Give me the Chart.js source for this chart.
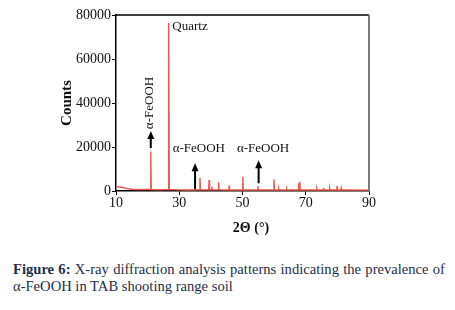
<!DOCTYPE html>
<html>
<head>
<meta charset="utf-8">
<script src="https://cdn.jsdelivr.net/npm/chart.js@4"></script>
<style>
  body { margin: 0; background: #fff; }
  #wrap { position: relative; width: 455px; height: 310px; }
  .cap { position: absolute; left: 13px; width: 432px; font-family: "Liberation Serif", serif; font-size: 14.6px; color: #232f4b; }
  #cap1 { top: 261px; text-align: justify; text-align-last: justify; }
  #cap2 { top: 278px; }
</style>
</head>
<body>
<div id="wrap">
  <canvas id="xrd" width="455" height="240"></canvas>
  <div class="cap" id="cap1"><b>Figure 6:</b> X-ray diffraction analysis patterns indicating the prevalence of</div>
  <div class="cap" id="cap2">α-FeOOH in TAB shooting range soil</div>
</div>
<script>
// 2-theta positions (degrees) and counts
var twoTheta = [10, 11, 12, 13, 14, 15, 17, 19, 20.85, 21.0, 21.15, 24, 26.45, 26.65, 26.85,
  30, 33, 36.4, 36.55, 36.7, 39.3, 39.45, 39.6, 40.2, 40.3, 40.4, 42.3, 42.45, 42.6,
  45.7, 45.8, 45.9, 49.95, 50.1, 50.25, 54.7, 54.85, 55.0, 59.8, 59.95, 60.1,
  61.4, 61.5, 61.6, 63.9, 64.0, 64.1, 65.4, 65.5, 65.6, 67.6, 67.75, 67.9, 68.1, 68.25,
  73.4, 73.5, 73.6, 75.5, 75.6, 75.7, 77.5, 77.6, 77.7, 79.8, 79.9, 80.0, 81.1, 81.2, 81.3,
  83.7, 83.8, 83.9, 90];
var counts = [1900, 1800, 1600, 1300, 1000, 800, 700, 650, 650, 18000, 650, 600, 700, 76500, 700,
  500, 450, 500, 6000, 500, 500, 5000, 500, 500, 2000, 500, 500, 4000, 500,
  450, 2500, 450, 450, 6500, 450, 450, 2200, 450, 450, 5200, 450,
  450, 1000, 450, 450, 900, 450, 450, 900, 450, 450, 3500, 800, 4200, 450,
  450, 1000, 450, 450, 1400, 450, 450, 1100, 450, 450, 2200, 450, 450, 1300, 450,
  450, 700, 450, 400];

var xTicks = [10, 30, 50, 70, 90];
var yTicks = [0, 20000, 40000, 60000, 80000];

// peak annotations: [2theta, arrow base counts, arrow tip counts]
var arrows = [[21.0, 19500, 27300], [35.0, 800, 12600], [55.1, 3500, 14000]];
var labels = [
  { text: "α-FeOOH", x: 20.75, y: 40000, rotate: true },
  { text: "α-FeOOH", x: 36.2, y: 19400, rotate: false },
  { text: "α-FeOOH", x: 56.5, y: 19400, rotate: false },
  { text: "Quartz", x: 27.8, y: 74700, rotate: false, left: true }
];

var serif = '"Liberation Serif", "Times New Roman", serif';

var points = twoTheta.map(function (t, i) { return { x: t, y: counts[i] }; });

var annotate = {
  id: "annotate",
  afterDraw: function (chart) {
    var c = chart.ctx, xs = chart.scales.x, ys = chart.scales.y, a = chart.chartArea;
    c.save();
    // top and right frame
    c.strokeStyle = "#000";
    c.lineWidth = 1.5;
    c.beginPath();
    c.moveTo(a.left, a.top);
    c.lineTo(a.right, a.top);
    c.stroke();
    c.strokeStyle = "#7a7a7a";
    c.lineWidth = 2;
    c.beginPath();
    c.moveTo(a.right, a.top);
    c.lineTo(a.right, a.bottom);
    c.stroke();

    // arrows
    c.fillStyle = "#000";
    c.strokeStyle = "#000";
    arrows.forEach(function (ar) {
      var px = xs.getPixelForValue(ar[0]);
      var y0 = ys.getPixelForValue(ar[1]);
      var y1 = ys.getPixelForValue(ar[2]);
      c.lineWidth = 2;
      c.beginPath();
      c.moveTo(px, y0);
      c.lineTo(px, y1 + 6);
      c.stroke();
      c.beginPath();
      c.moveTo(px, y1);
      c.lineTo(px - 3.5, y1 + 8);
      c.lineTo(px + 3.5, y1 + 8);
      c.closePath();
      c.fill();
    });

    // labels
    c.font = "13px " + serif;
    c.fillStyle = "#111";
    labels.forEach(function (lb) {
      var px = xs.getPixelForValue(lb.x);
      var py = ys.getPixelForValue(lb.y);
      c.save();
      c.translate(px, py);
      if (lb.rotate) c.rotate(-Math.PI / 2);
      c.textAlign = lb.left ? "left" : "center";
      c.textBaseline = "middle";
      c.fillText(lb.text, 0, 0);
      c.restore();
    });

    // x axis title (sits a little right of centre in the original)
    c.font = "bold 14px " + serif;
    c.textAlign = "center";
    c.textBaseline = "middle";
    c.fillText("2Θ (°)", 251, 228);
    c.restore();
  }
};

new Chart(document.getElementById("xrd").getContext("2d"), {
  type: "line",
  data: {
    datasets: [{
      data: points,
      borderColor: "rgb(236, 88, 78)",
      borderWidth: 1.4,
      pointRadius: 0,
      tension: 0
    }]
  },
  options: {
    responsive: false,
    animation: false,
    layout: { padding: { left: 0, right: 86, top: 15, bottom: 0 } },
    plugins: { legend: { display: false }, tooltip: { enabled: false } },
    scales: {
      x: {
        type: "linear",
        min: 10,
        max: 90,
        afterBuildTicks: function (s) { s.ticks = xTicks.map(function (v) { return { value: v }; }); },
        afterFit: function (s) { s.height = 49; },
        ticks: { color: "#111", font: { family: serif, size: 14 }, padding: 0, maxRotation: 0 },
        grid: { drawOnChartArea: false, drawTicks: true, tickLength: 4, color: "#000" },
        border: { display: true, color: "#000", width: 1.5 }
      },
      y: {
        min: 0,
        max: 80000,
        afterBuildTicks: function (s) { s.ticks = yTicks.map(function (v) { return { value: v }; }); },
        afterFit: function (s) { s.width = 116; },
        ticks: { color: "#111", font: { family: serif, size: 14 }, padding: 1, callback: function (v) { return String(v); } },
        grid: { drawOnChartArea: false, drawTicks: true, tickLength: 4, color: "#000" },
        border: { display: true, color: "#000", width: 1.5 },
        title: { display: true, text: "Counts", color: "#111", font: { family: serif, size: 15, weight: "bold" }, padding: { top: 58, bottom: 0 } }
      }
    }
  },
  plugins: [annotate]
});
</script>
</body>
</html>
